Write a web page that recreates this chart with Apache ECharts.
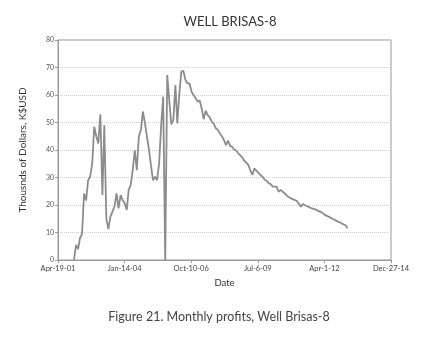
<!DOCTYPE html>
<html>
<head>
<meta charset="utf-8">
<script src="https://cdn.jsdelivr.net/npm/echarts@6/dist/echarts.min.js"></script>
<style>
html, body { margin: 0; padding: 0; background: #fff; }
#chart { width: 430px; height: 340px; }
</style>
</head>
<body>
<div id="chart"></div>
<script>
// x tick labels, one every 1000 days from Apr-19-01
var tickLabels = ['Apr-19-01', 'Jan-14-04', 'Oct-10-06', 'Jul-6-09', 'Apr-1-12', 'Dec-27-14'];
var axisStart = [2001, 3, 19];   // Apr 19 2001
var firstMonth = [2001, 11, 15]; // first monthly point, Dec 2001
// monthly profits, thousands of dollars
var profits = [0, 5.5, 4, 8, 9.5, 24.2, 21.6, 29, 30.3, 35, 48.5, 45, 42.4, 53, 23.6, 49, 15, 11.2,
  15.8, 16.4, 19.4, 24.2, 18.8, 23.6, 21.8, 20.6, 18.2, 25.5, 27.3, 32.7, 40, 32.7, 45, 47.3, 54,
  49.7, 44.8, 40, 34, 29, 30.3, 29, 35, 48.5, 59.4, 0, 67.3, 58, 49.3, 51, 63.6, 49.7, 60.6, 68.5,
  68.8, 65.5, 64.2, 64.2, 61.2, 60, 58.8, 57.6, 58, 55.2, 51.2, 54.3, 52.7, 51.9, 50.3, 49.5, 47.9,
  47.3, 46, 45, 43.6, 41.8, 43.4, 41.5, 41.2, 40.2, 39.8, 38.8, 38.2, 37.3, 36.1, 35.4, 34.5, 32.7,
  30.9, 33.3, 32.5, 31.8, 30.9, 30.3, 29.3, 28.8, 27.9, 27.6, 26.7, 26, 26.7, 24.8, 25.5, 24.8, 24.2,
  23.4, 22.9, 22.4, 22.1, 21.8, 21.4, 21, 19.4, 20.4, 19.9, 19.6, 19.2, 18.9, 18.6, 18.4, 18.1, 17.7,
  17.4, 17, 16.3, 15.8, 15.6, 15.2, 14.8, 14.4, 14.1, 13.7, 13.3, 12.9, 12.6, 11.5];

var DAY = 86400000;
var t0 = Date.UTC(axisStart[0], axisStart[1], axisStart[2]);
var points = profits.map(function (v, i) {
  var t = Date.UTC(firstMonth[0], firstMonth[1] + i, firstMonth[2]);
  return [(t - t0) / DAY, v];
});

var font = 'Lato, "Noto Sans", sans-serif';
var chart = echarts.init(document.getElementById('chart'));
chart.setOption({
  animation: false,
  backgroundColor: '#fff',
  textStyle: { fontFamily: font },
  title: [{
    text: 'WELL BRISAS-8',
    left: 225, top: 10, textAlign: 'center',
    textStyle: { fontSize: 13, fontWeight: 'normal', color: '#333', fontFamily: font }
  }, {
    text: 'Figure 21. Monthly profits, Well Brisas-8',
    left: 214, top: 305, textAlign: 'center',
    textStyle: { fontSize: 12.5, fontWeight: 'normal', color: '#444', fontFamily: font }
  }],
  grid: {
    left: 58, right: 39, top: 40, bottom: 80,
    show: true, borderColor: '#999', borderWidth: 1
  },
  xAxis: {
    type: 'value',
    min: 0, max: 5000, interval: 1000,
    name: 'Date', nameLocation: 'middle', nameGap: 18,
    nameTextStyle: { fontSize: 9.5, color: '#333' },
    axisLine: { lineStyle: { color: '#999' } },
    axisTick: { length: 3, lineStyle: { color: '#999' } },
    axisLabel: {
      fontSize: 7.5, color: '#444', margin: 5,
      formatter: function (v) { return tickLabels[Math.round(v / 1000)]; }
    },
    splitLine: { show: false }
  },
  yAxis: {
    type: 'value',
    min: 0, max: 80, interval: 10,
    name: 'Thousnds of Dollars, K$USD', nameLocation: 'middle', nameGap: 30,
    nameTextStyle: { fontSize: 10, color: '#333' },
    axisLine: { show: true, lineStyle: { color: '#999' } },
    axisTick: { show: true, length: 3, lineStyle: { color: '#999' } },
    axisLabel: { fontSize: 7, color: '#555', margin: 4 },
    splitLine: { lineStyle: { type: 'dotted', color: '#ccc', width: 1 } }
  },
  series: [{
    type: 'line',
    data: points,
    showSymbol: false,
    lineStyle: { color: '#8c8c8c', width: 1.8 }
  }]
});
</script>
</body>
</html>
